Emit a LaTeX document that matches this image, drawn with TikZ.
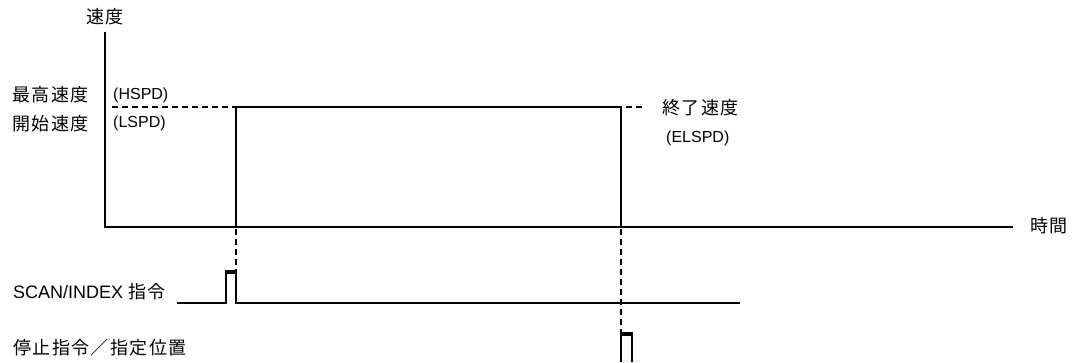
\documentclass[tikz,border=0pt]{standalone}
\usepackage{fontspec}
\setmainfont{Liberation Sans}
\newfontfamily\cjk[LetterSpace=8]{Noto Sans CJK JP}
\begin{document}
\begin{tikzpicture}[x=1pt, y=-1pt,
        every node/.style={font=\fontsize{18}{20}\selectfont, inner sep=0pt},
        lvl/.style={font=\fontsize{16}{18}\selectfont, anchor=west},
        axis/.style={line width=2.8pt},
        wave/.style={line width=2pt},
        guide/.style={line width=2pt, dash pattern=on 6pt off 4pt},
        pulsetop/.style={line width=4pt}
    ]
        \useasboundingbox (0,0) rectangle (1073,362);
        % axes
        \draw[axis] (105,32) -- (105,227) -- (1013,227);
        \node (vlabel) at (105,17) {\cjk 速度};
        \node[anchor=west] (tlabel) at (1030,226) {\cjk 時間};
        % speed levels
        \node[anchor=west] (hspdj) at (12,95) {\cjk 最高速度};
        \node[anchor=west] (lspdj) at (12,124) {\cjk 開始速度};
        \node[lvl] (hspd) at (113,95) {(HSPD)};
        \node[lvl] (lspd) at (113,123) {(LSPD)};
        \node[anchor=west] (elspdj) at (662,108) {\cjk 終了速度};
        \node[lvl] (elspd) at (666,138) {(ELSPD)};
        % speed profile
        \draw[guide] (112,107) -- (236,107);
        \draw[wave] (236,227) -- (236,107) -- (621,107) -- (621,227);
        \draw[guide] (626,107) -- (645,107);
        % timing guides
        \draw[guide] (236,229) -- (236,271);
        \draw[guide] (621,229) -- (621,333);
        % SCAN/INDEX command
        \node[anchor=west] (scan) at (13,292) {SCAN/INDEX {\cjk 指令}};
        \draw[wave] (177,303) -- (226,303) -- (226,271) -- (236,271) -- (236,303) -- (740,303);
        \draw[pulsetop] (226,272) -- (236,272);
        % stop command
        \node[anchor=west] (stop) at (13,348) {\cjk 停止指令／指定位置};
        \draw[wave] (621,362) -- (621,333) -- (632,333) -- (632,362);
        \draw[pulsetop] (621,334) -- (632,334);
    \end{tikzpicture}
\end{document}
